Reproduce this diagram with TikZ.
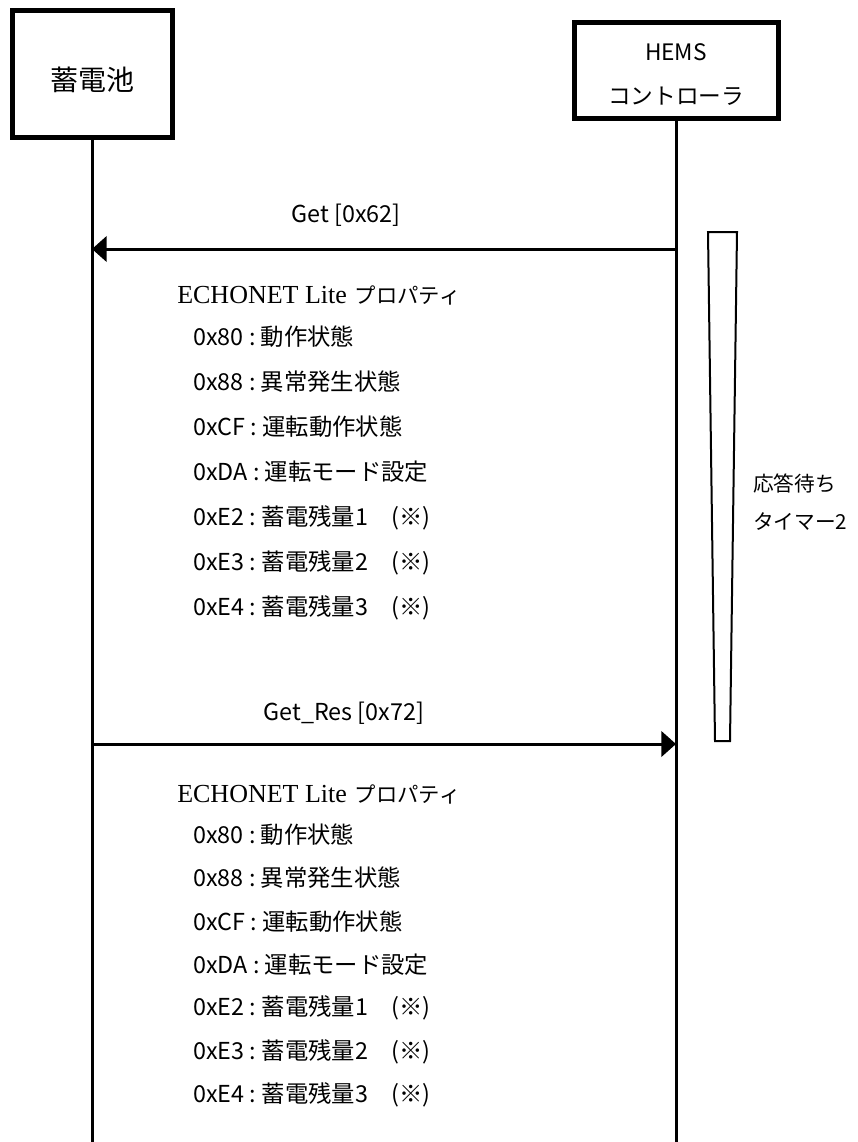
\documentclass[tikz,border=0pt]{standalone}
\usepackage{fontspec}
\usepackage{tikz}
\usetikzlibrary{arrows.meta}
\setmainfont{Noto Sans CJK JP}
\newfontfamily\romanfont{Liberation Serif}
\newcommand{\pcolon}{\hspace{4pt}:\hspace{4pt}}

\begin{document}
\begin{tikzpicture}[x=0.75pt,y=0.75pt,yscale=-1,xscale=1,
  actor/.style={draw, line width=3.75pt, inner sep=0pt},
  lifeline/.style={line width=2.25pt},
  msg/.style={line width=2.25pt, -{Triangle[length=11pt,width=19pt]}},
  msglabel/.style={inner sep=0.75pt, font=\fontsize{17.5}{20}\selectfont},
  prop/.style={anchor=west, inner sep=0.75pt, font=\fontsize{17.5}{20}\selectfont},
  head/.style={anchor=west, inner sep=0.75pt}]

\useasboundingbox (0,0) rectangle (857,1142);

\draw (92,73.5) node (bat) [actor, minimum width=120pt, minimum height=95.25pt] {};
\draw (92,80) node (battxt) [inner sep=0.75pt, font=\fontsize{21}{24}\selectfont] {蓄電池};

\draw (676,70) node (hems) [actor, minimum width=153pt, minimum height=72pt] {};
\draw (676,75) node (hemstxt) [inner sep=0.75pt, align=center, font=\fontsize{17}{33}\selectfont] {HEMS\\コントローラ};

\coordinate (batend) at (92,1142);
\coordinate (hemsend) at (676,1142);
\draw [lifeline] (bat.south) -- (batend);
\draw [lifeline] (hems.south) -- (hemsend);

\coordinate (getfrom) at (676,249);
\coordinate (getto) at (92,249);
\draw [msg] (getfrom) -- (getto);
\draw (346,215) node (getlbl) [msglabel] {Get [0x62]};

\coordinate (resfrom) at (92,744);
\coordinate (resto) at (676,744);
\draw [msg] (resfrom) -- (resto);
\draw (344,713) node (reslbl) [msglabel] {Get\_Res [0x72]};

\draw [line width=1.5pt] (708,232) -- (737,232) -- (730,741) -- (715,741) -- cycle;
\draw (752,483) node (tmr1) [prop, font=\fontsize{15.5}{18}\selectfont] {応答待ち};
\draw (752,522) node (tmr2) [prop, font=\fontsize{15.5}{18}\selectfont] {タイマー2};

\draw (176,295) node (hd1) [head] {{\romanfont\fontsize{19.5}{24}\selectfont ECHONET Lite}\hspace{6pt}{\fontsize{16}{18}\selectfont プロパティ}};
\draw (192,337) node (p1a) [prop] {0x80\pcolon 動作状態};
\draw (192,382) node (p1b) [prop] {0x88\pcolon 異常発生状態};
\draw (192,427) node (p1c) [prop] {0xCF\pcolon 運転動作状態};
\draw (192,472) node (p1d) [prop] {0xDA\pcolon 運転モード設定};
\draw (192,518) node (p1e) [prop] {0xE2\pcolon 蓄電残量1　(※)};
\draw (192,563) node (p1f) [prop] {0xE3\pcolon 蓄電残量2　(※)};
\draw (192,608) node (p1g) [prop] {0xE4\pcolon 蓄電残量3　(※)};

\draw (176,794) node (hd2) [head] {{\romanfont\fontsize{19.5}{24}\selectfont ECHONET Lite}\hspace{6pt}{\fontsize{16}{18}\selectfont プロパティ}};
\draw (192,835) node (p2a) [prop] {0x80\pcolon 動作状態};
\draw (192,878) node (p2b) [prop] {0x88\pcolon 異常発生状態};
\draw (192,922) node (p2c) [prop] {0xCF\pcolon 運転動作状態};
\draw (192,965) node (p2d) [prop] {0xDA\pcolon 運転モード設定};
\draw (192,1008) node (p2e) [prop] {0xE2\pcolon 蓄電残量1　(※)};
\draw (192,1052) node (p2f) [prop] {0xE3\pcolon 蓄電残量2　(※)};
\draw (192,1095) node (p2g) [prop] {0xE4\pcolon 蓄電残量3　(※)};

\end{tikzpicture}
\end{document}
